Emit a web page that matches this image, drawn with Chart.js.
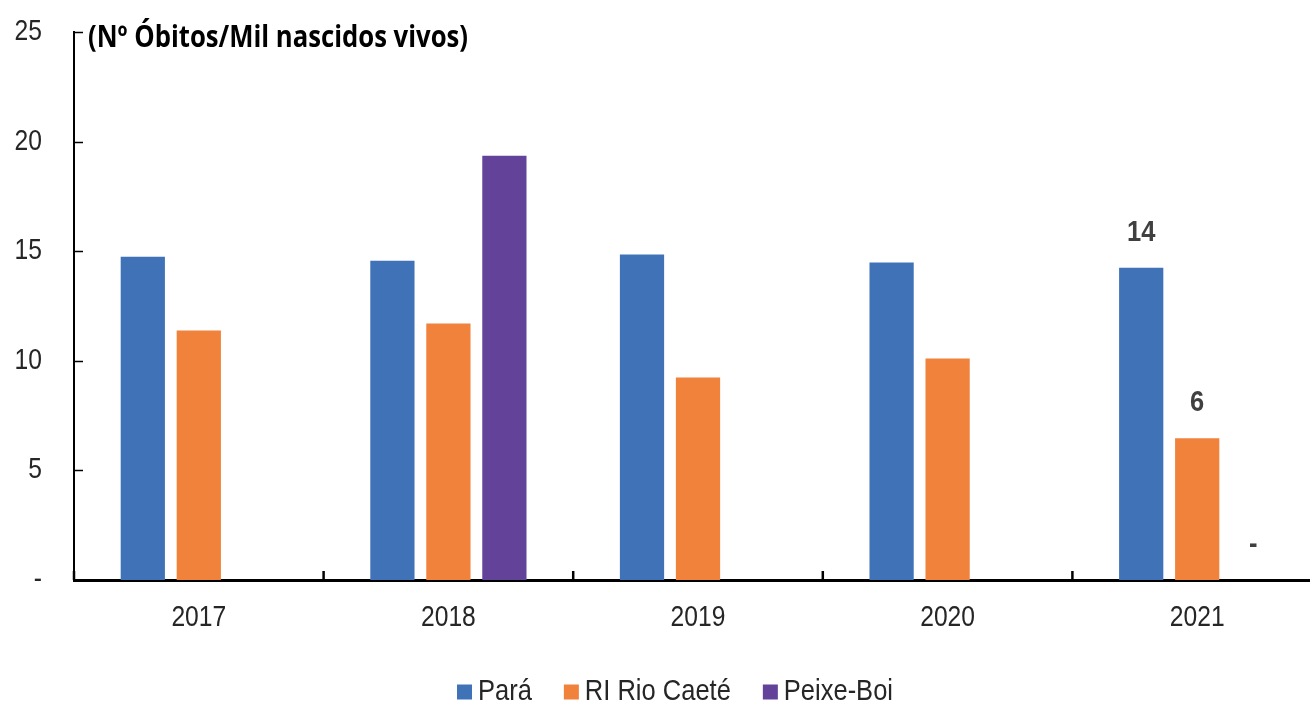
<!DOCTYPE html>
<html>
<head>
<meta charset="utf-8">
<script src="https://cdn.jsdelivr.net/npm/chart.js@4.4.1/dist/chart.umd.min.js"></script>
<style>
  html, body { margin: 0; padding: 0; background: #fff; overflow: hidden; }
  #wrap { width: 1322px; height: 704px; }
</style>
</head>
<body>
<div id="wrap"><canvas id="myChart" width="1322" height="704"></canvas></div>
<script>
// data
const years = ['2017', '2018', '2019', '2020', '2021'];
const para = [14.75, 14.57, 14.85, 14.48, 14.25];
const rioCaete = [11.38, 11.7, 9.24, 10.1, 6.47];
const peixeBoi = [null, 19.35, null, null, 0];
const seriesNames = ['Pará', 'RI Rio Caeté', 'Peixe-Boi'];
const seriesColors = ['#4072B8', '#F0823C', '#634399'];
const labels2021 = ['14', '6', '-'];
const yTicks = [0, 5, 10, 15, 20, 25];
const titleText = '(Nº Óbitos/Mil nascidos vivos)';

const sans = "'Liberation Sans', Arial, sans-serif";
const textColor = '#262626';
const squeeze = 0.85; // the original uses a narrow face

// draw text horizontally condensed
function narrowText(ctx, text, x, y, align) {
    const w = ctx.measureText(text).width * squeeze;
    let x0 = x;
    if (align === 'center') x0 = x - w / 2;
    if (align === 'right') x0 = x - w;
    ctx.save();
    ctx.textAlign = 'left';
    ctx.translate(x0, y);
    ctx.scale(squeeze, 1);
    ctx.fillText(text, 0, 0);
    ctx.restore();
    return w;
}

const extras = {
    id: 'extras',
    afterDraw(chart) {
        const ctx = chart.ctx;
        const area = chart.chartArea;
        const x = chart.scales.x;
        const y = chart.scales.y;
        ctx.save();
        ctx.strokeStyle = '#000';

        // inward ticks on the y axis
        ctx.lineWidth = 1.5;
        yTicks.forEach(v => {
            if (v === 0) return;
            const py = Math.round(y.getPixelForValue(v)) + 0.5;
            ctx.beginPath();
            ctx.moveTo(area.left, py);
            ctx.lineTo(area.left + 9, py);
            ctx.stroke();
        });

        // category boundary ticks on the x axis
        ctx.lineWidth = 2.5;
        const step = area.width / years.length;
        for (let i = 0; i < years.length; i++) {
            const px = area.left + i * step;
            ctx.beginPath();
            ctx.moveTo(px, area.bottom);
            ctx.lineTo(px, area.bottom - 9);
            ctx.stroke();
        }

        // tick labels
        ctx.fillStyle = textColor;
        ctx.font = '29px ' + sans;
        ctx.textBaseline = 'middle';
        yTicks.forEach(v => {
            narrowText(ctx, v === 0 ? '-' : String(v), 42, y.getPixelForValue(v), 'right');
        });
        years.forEach((yr, i) => {
            narrowText(ctx, yr, x.getPixelForValue(i), 618, 'center');
        });

        // value labels for 2021
        ctx.fillStyle = '#404040';
        ctx.font = 'bold 30px ' + sans;
        [0, 1, 2].forEach(d => {
            const bar = chart.getDatasetMeta(d).data[4];
            if (!bar) return;
            narrowText(ctx, labels2021[d], bar.x, bar.y - 35, 'center');
        });

        // title, squeezed like a condensed font
        ctx.font = "bold 30px 'Open Sans', 'Noto Sans', sans-serif";
        ctx.fillStyle = '#000';
        ctx.textAlign = 'left';
        ctx.textBaseline = 'alphabetic';
        const w = ctx.measureText(titleText).width;
        ctx.save();
        ctx.translate(88, 47);
        ctx.scale(380 / w, 1);
        ctx.fillText(titleText, 0, 0);
        ctx.restore();

        // legend
        ctx.font = '30px ' + sans;
        ctx.textBaseline = 'middle';
        let lx = 457;
        const ly = 692;
        seriesNames.forEach((name, i) => {
            ctx.fillStyle = seriesColors[i];
            ctx.fillRect(lx, ly - 7.5, 15, 15);
            ctx.fillStyle = textColor;
            const tw = narrowText(ctx, name, lx + 21, ly, 'left');
            lx += 21 + tw + 32;
        });
        ctx.restore();
    }
};

function makeChart() {
    const ctx = document.getElementById('myChart');
    const config = {
        type: 'bar',
        data: {
            labels: years,
            datasets: [
                { label: seriesNames[0], data: para, backgroundColor: seriesColors[0] },
                { label: seriesNames[1], data: rioCaete, backgroundColor: seriesColors[1] },
                { label: seriesNames[2], data: peixeBoi, backgroundColor: seriesColors[2] }
            ]
        },
        options: {
            responsive: false,
            animation: false,
            categoryPercentage: 0.673,
            barPercentage: 0.79,
            layout: { padding: { top: 32, right: 0, bottom: 0, left: 0 } },
            scales: {
                x: {
                    grid: { display: false, drawTicks: false },
                    border: { display: true, color: '#000', width: 3 },
                    ticks: { display: false },
                    afterFit(scale) { scale.height = 124; }
                },
                y: {
                    min: 0,
                    max: 25,
                    grid: { display: false, drawTicks: false },
                    border: { display: true, color: '#000', width: 2 },
                    afterBuildTicks(scale) { scale.ticks = yTicks.map(v => ({ value: v })); },
                    ticks: { display: false },
                    afterFit(scale) { scale.width = 74; }
                }
            },
            plugins: {
                legend: { display: false },
                tooltip: { enabled: false }
            }
        },
        plugins: [extras]
    };
    new Chart(ctx, config);
}

window.onload = function () {
    makeChart();
};
</script>
</body>
</html>
